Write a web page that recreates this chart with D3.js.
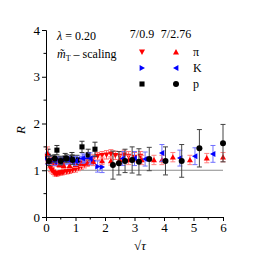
<!DOCTYPE html>
<html>
<head>
<meta charset="utf-8">
<script src="https://cdn.jsdelivr.net/npm/d3@7"></script>
<style>
  body { margin: 0; background: #fff; }
  text { font-family: "Liberation Serif", "DejaVu Serif", serif; }
</style>
</head>
<body>
<div id="chart"></div>
<script>
// layout
const width = 260;
const height = 260;

// data
const xTicks = [0, 1, 2, 3, 4, 5, 6];
const yTicks = [0, 1, 2, 3, 4];

// pi, 7/0.9 (down triangles)
const piAX = [0.05, 0.1, 0.15, 0.2, 0.25, 0.3, 0.35, 0.4, 0.45, 0.5, 0.55, 0.6, 0.7, 0.8, 0.9, 1.0, 1.1, 1.2, 1.3, 1.45, 1.6, 1.75, 1.9, 2.05, 2.2, 2.35, 2.5, 2.65, 2.8, 3.0, 3.2];
const piAY = [1.3, 1.15, 1.05, 1.0, 0.96, 0.93, 0.92, 0.93, 0.94, 0.95, 0.95, 0.96, 0.97, 0.98, 1.0, 1.02, 1.05, 1.08, 1.12, 1.2, 1.25, 1.3, 1.32, 1.33, 1.35, 1.32, 1.3, 1.33, 1.3, 1.28, 1.3];
const piAE = [0.15, 0.1, 0.08, 0.06, 0.05, 0.05, 0.05, 0.05, 0.05, 0.05, 0.05, 0.05, 0.05, 0.05, 0.05, 0.06, 0.06, 0.06, 0.07, 0.08, 0.08, 0.08, 0.08, 0.09, 0.09, 0.09, 0.1, 0.1, 0.1, 0.1, 0.1];

// pi, 7/2.76 (up triangles)
const piBX = [0.05, 0.15, 0.3, 0.45, 0.6, 0.8, 1.0, 1.2, 1.4, 1.6, 1.9, 2.2, 2.5, 2.8, 3.25, 3.66, 3.93, 4.3, 4.88, 5.45, 6.0];
const piBY = [1.35, 1.2, 1.15, 1.12, 1.1, 1.1, 1.12, 1.15, 1.15, 1.18, 1.2, 1.2, 1.22, 1.22, 1.22, 1.22, 1.22, 1.28, 1.22, 1.26, 1.28];
const piBE = [0.15, 0.08, 0.06, 0.06, 0.06, 0.06, 0.06, 0.07, 0.07, 0.08, 0.08, 0.09, 0.1, 0.1, 0.1, 0.1, 0.1, 0.1, 0.1, 0.1, 0.1];

// K, 7/0.9 (right triangles)
const kAX = [0.05, 0.1, 0.2, 0.3, 0.4, 0.5, 0.6, 0.7, 0.8, 0.9, 1.0, 1.1, 1.2, 1.3, 1.45, 1.6, 1.75, 1.9];
const kAY = [1.25, 1.2, 1.18, 1.2, 1.22, 1.2, 1.18, 1.2, 1.22, 1.2, 1.18, 1.2, 1.22, 1.25, 1.28, 1.2, 1.08, 1.07];
const kAE = [0.12, 0.08, 0.07, 0.07, 0.07, 0.07, 0.07, 0.07, 0.07, 0.07, 0.08, 0.08, 0.08, 0.08, 0.1, 0.1, 0.12, 0.12];

// K, 7/2.76 (left triangles)
const kBX = [0.1, 0.3, 0.5, 0.75, 1.0, 1.25, 1.5, 2.6, 3.0, 3.36, 3.93, 4.54, 5.05, 5.66];
const kBY = [1.2, 1.18, 1.2, 1.22, 1.2, 1.25, 1.25, 1.25, 1.25, 1.24, 1.37, 1.26, 1.3, 1.35];
const kBE = [0.1, 0.08, 0.08, 0.08, 0.1, 0.1, 0.12, 0.15, 0.15, 0.15, 0.18, 0.17, 0.18, 0.18];

// p, 7/0.9 (squares)
const pAX = [0.07, 0.2, 0.37, 0.5, 0.65, 0.88, 1.05, 1.22, 1.43, 1.66];
const pAY = [1.3, 1.22, 1.43, 1.2, 1.26, 1.28, 1.22, 1.5, 1.33, 1.45];
const pAE = [0.15, 0.1, 0.1, 0.1, 0.1, 0.1, 0.1, 0.12, 0.12, 0.15];

// p, 7/2.76 (circles)
const pBX = [0.1, 0.3, 0.5, 0.7, 0.9, 2.27, 2.47, 2.68, 2.92, 3.15, 3.5, 4.05, 4.6, 5.2, 6.0];
const pBY = [1.2, 1.25, 1.2, 1.25, 1.22, 1.11, 1.15, 1.2, 1.22, 1.18, 1.24, 1.2, 1.2, 1.47, 1.58];
const pBE = [0.1, 0.08, 0.08, 0.08, 0.1, 0.3, 0.25, 0.25, 0.28, 0.28, 0.25, 0.3, 0.35, 0.4, 0.4];

const svg = d3.select("#chart")
  .append("svg")
  .attr("width", width)
  .attr("height", height);

// Scales
const xScale = d3.scaleLinear().domain([0, 6]).range([46, 223]);
const yScale = d3.scaleLinear().domain([0, 4]).range([217, 30]);

// reference line at R = 1
svg.append("line")
  .attr("x1", xScale(0)).attr("x2", xScale(6))
  .attr("y1", yScale(1)).attr("y2", yScale(1))
  .attr("stroke", "#8c8c8c")
  .attr("stroke-width", 1);

// series
const series = [
  { xs: piAX, ys: piAY, es: piAE, shape: "down", fill: "#ff0000", bar: "#ff6f6f" },
  { xs: kAX, ys: kAY, es: kAE, shape: "right", fill: "#0000ff", bar: "#6f6fff" },
  { xs: pAX, ys: pAY, es: pAE, shape: "square", fill: "#000", bar: "#333" },
  { xs: piBX, ys: piBY, es: piBE, shape: "up", fill: "#ff0000", bar: "#ff8080" },
  { xs: kBX, ys: kBY, es: kBE, shape: "left", fill: "#0000ff", bar: "#7070ff" },
  { xs: pBX, ys: pBY, es: pBE, shape: "circle", fill: "#000", bar: "#444" },
];

function symbolPath(shape, s) {
  const h = s;
  if (shape === "down") return `M${-h},${-h * 0.8}L${h},${-h * 0.8}L0,${h}Z`;
  if (shape === "up") return `M${-h},${h * 0.8}L${h},${h * 0.8}L0,${-h}Z`;
  if (shape === "right") return `M${-h * 0.8},${-h}L${-h * 0.8},${h}L${h},0Z`;
  if (shape === "left") return `M${h * 0.8},${-h}L${h * 0.8},${h}L${-h},0Z`;
  if (shape === "square") return `M${-h * 0.85},${-h * 0.85}h${h * 1.7}v${h * 1.7}h${-h * 1.7}Z`;
  return d3.symbol(d3.symbolCircle, Math.PI * h * h)();
}

series.forEach((s) => {
  const pts = s.xs.map((x, i) => ({ x: x, y: s.ys[i], e: s.es[i] }));
  const g = svg.append("g");

  const eb = g.selectAll(".eb").data(pts).join("g").attr("stroke", s.bar).attr("stroke-width", 1);
  eb.append("line")
    .attr("x1", (d) => xScale(d.x)).attr("x2", (d) => xScale(d.x))
    .attr("y1", (d) => yScale(d.y - d.e)).attr("y2", (d) => yScale(d.y + d.e));
  eb.append("line")
    .attr("x1", (d) => xScale(d.x) - 2.5).attr("x2", (d) => xScale(d.x) + 2.5)
    .attr("y1", (d) => yScale(d.y + d.e)).attr("y2", (d) => yScale(d.y + d.e));
  eb.append("line")
    .attr("x1", (d) => xScale(d.x) - 2.5).attr("x2", (d) => xScale(d.x) + 2.5)
    .attr("y1", (d) => yScale(d.y - d.e)).attr("y2", (d) => yScale(d.y - d.e));

  g.selectAll(".pt").data(pts).join("path")
    .attr("transform", (d) => `translate(${xScale(d.x)},${yScale(d.y)})`)
    .attr("d", symbolPath(s.shape, 3))
    .attr("fill", s.fill);
});

// Axes
const xAxis = d3.axisBottom(xScale).tickValues(xTicks).tickSize(4).tickPadding(2).tickFormat(d3.format("d"));
const yAxis = d3.axisLeft(yScale).tickValues(yTicks).tickSize(4).tickPadding(2).tickFormat(d3.format("d"));

const xAxisG = svg.append("g").attr("transform", `translate(0,${yScale(0)})`).call(xAxis);
const yAxisG = svg.append("g").attr("transform", `translate(${xScale(0)},0)`).call(yAxis);

// minor ticks
const xMinor = d3.range(0.5, 6, 1);
const yMinor = d3.range(0.5, 4, 1);
svg.append("g").selectAll("line").data(xMinor).join("line")
  .attr("x1", (d) => xScale(d)).attr("x2", (d) => xScale(d))
  .attr("y1", yScale(0)).attr("y2", yScale(0) + 2.5)
  .attr("stroke", "#000");
svg.append("g").selectAll("line").data(yMinor).join("line")
  .attr("y1", (d) => yScale(d)).attr("y2", (d) => yScale(d))
  .attr("x1", xScale(0)).attr("x2", xScale(0) - 2.5)
  .attr("stroke", "#000");

[xAxisG, yAxisG].forEach((a) => {
  a.select(".domain").attr("stroke", "#000");
  a.selectAll("text").style("font-family", "Liberation Serif, serif").style("font-size", "13px").attr("fill", "#000");
});

// axis titles
svg.append("text")
  .attr("transform", "translate(25,130) rotate(-90)")
  .attr("text-anchor", "middle")
  .style("font-size", "13px")
  .style("font-style", "italic")
  .text("R");

svg.append("text")
  .attr("x", 140).attr("y", 250)
  .attr("text-anchor", "middle")
  .style("font-size", "13px")
  .html('√<tspan font-style="italic">τ</tspan>');

// annotations
svg.append("text")
  .attr("x", 57).attr("y", 40)
  .style("font-size", "12px")
  .html('<tspan font-style="italic">λ</tspan> = 0.20');

svg.append("text")
  .attr("x", 57).attr("y", 58)
  .style("font-size", "12px")
  .html('<tspan font-style="italic">m̃</tspan><tspan font-size="8px" dy="3">T</tspan><tspan dy="-3"> – scaling</tspan>');

// legend
const legendCols = ["7/0.9", "7/2.76"];
const legendColX = [142, 176];
const legendRows = ["π", "K", "p"];
const legendRowY = [52, 68, 84];

svg.selectAll(".lh").data(legendCols).join("text")
  .attr("x", (d, i) => legendColX[i]).attr("y", 38)
  .attr("text-anchor", "middle")
  .style("font-size", "12px")
  .text((d) => d);

legendRows.forEach((r, ri) => {
  [0, 1].forEach((ci) => {
    const s = series[ci * 3 + ri];
    svg.append("path")
      .attr("transform", `translate(${legendColX[ci]},${legendRowY[ri]})`)
      .attr("d", symbolPath(s.shape, 3))
      .attr("fill", s.fill);
  });
  svg.append("text")
    .attr("x", 193).attr("y", legendRowY[ri] + 4)
    .style("font-size", "12px")
    .text(r);
});
</script>
</body>
</html>
